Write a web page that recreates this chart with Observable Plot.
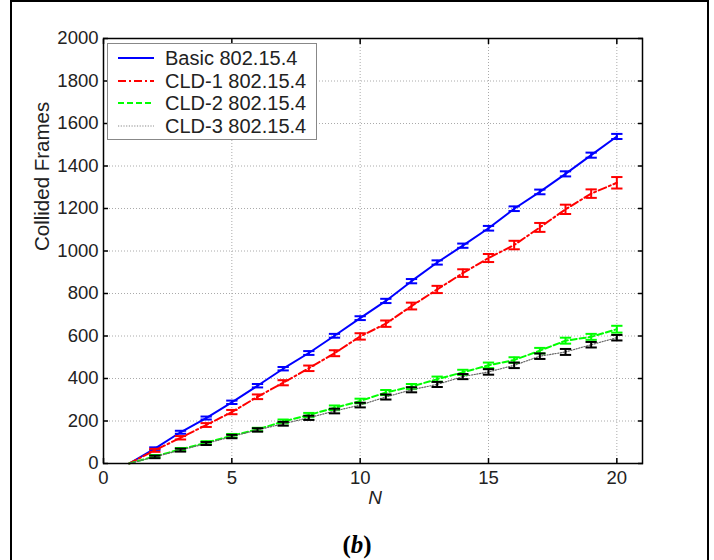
<!DOCTYPE html>
<html><head><meta charset="utf-8">
<script src="https://cdn.jsdelivr.net/npm/d3@7"></script>
<script src="https://cdn.jsdelivr.net/npm/@observablehq/plot@0.6"></script>
<style>
html,body{margin:0;padding:0;background:#fff;}
#wrap{position:relative;width:714px;height:560px;overflow:hidden;font-family:"Liberation Sans",Arial,sans-serif;}
#border{position:absolute;left:10px;top:0px;width:699px;height:600px;border:2px solid #000;border-bottom:none;box-sizing:border-box;pointer-events:none;}
#chart{position:relative;height:515px;}
#legend{position:absolute;left:107px;top:43px;width:210px;height:97px;border:1px solid #888;background:#fff;box-sizing:border-box;}
.row{position:absolute;left:0;height:22px;width:205px;}
.row svg{position:absolute;left:10px;top:6px;}
.row span{position:absolute;left:57px;top:0;line-height:22px;font-size:20px;color:#222;white-space:nowrap;}
#caption{position:relative;margin-top:16px;height:28px;line-height:28px;text-align:center;font-family:"Liberation Serif","Times New Roman",serif;font-weight:bold;font-size:25px;color:#000;}
</style></head>
<body>
<div id="wrap">
  <div id="chart"></div>
  <div id="legend"></div>
  <div id="caption">(<i>b</i>)</div>
  <div id="border"></div>
</div>
<script>
const N = [1,2,3,4,5,6,7,8,9,10,11,12,13,14,15,16,17,18,19,20];
const basic    = [0,70,147,214,288,366,446,520,601,684,765,858,946,1025,1107,1199,1278,1363,1451,1539];
const basicErr = [0,6,7,7,8,8,8,9,9,9,10,10,10,10,11,11,11,12,12,12];
const cld1     = [0,62,121,181,242,314,380,448,519,598,658,741,819,896,967,1028,1111,1196,1270,1321];
const cld1Err  = [0,7,8,9,10,11,12,13,14,15,15,16,17,18,19,20,21,22,20,27];
const cld2     = [0,34,66,98,131,160,198,228,262,294,334,362,397,429,462,487,531,578,596,632];
const cld2Err  = [0,6,7,7,8,8,9,10,11,11,12,12,12,12,13,13,13,14,14,16];
const cld3     = [0,31,63,94,127,158,187,215,247,275,313,347,372,409,431,462,505,525,559,592];
const cld3Err  = [0,6,7,7,8,8,9,10,11,11,12,12,12,12,13,13,13,14,13,13];
const seriesNames = ["Basic 802.15.4","CLD-1 802.15.4","CLD-2 802.15.4","CLD-3 802.15.4"];
const xTicks = [0,5,10,15,20];
const xTickLabels = ["0","5","10","15","20"];
const yTicks = [0,200,400,600,800,1000,1200,1400,1600,1800,2000];
const yTickLabels = ["0","200","400","600","800","1000","1200","1400","1600","1800","2000"];
const xLabel = "N";
const yLabel = "Collided Frames";

const styles = [
  {color:"#0000ff", dash:null, width:2},
  {color:"#ff0000", dash:"8,3,2,3", width:2},
  {color:"#00ff00", dash:"6,3", width:2},
  {color:"#000000", dash:"1.2,1.5", width:1.2, lineColor:"#666"}
];
const vals = [basic, cld1, cld2, cld3];
const errs = [basicErr, cld1Err, cld2Err, cld3Err];

const marks = [
  Plot.gridY(yTicks, {stroke:"#aaa", strokeOpacity:1, strokeDasharray:"1,2", strokeWidth:1}),
  Plot.gridX(xTicks, {stroke:"#aaa", strokeOpacity:1, strokeDasharray:"1,2", strokeWidth:1})
];
seriesNames.forEach((name, k) => {
  const st = styles[k];
  const rows = N.map((n,i) => ({N:n, v:vals[k][i], e:errs[k][i], name}));
  const eb = rows.filter(d => d.e > 0);
  marks.push(Plot.line(rows, {x:"N", y:"v", stroke: st.lineColor || st.color, strokeWidth: st.width, strokeDasharray: st.dash}));
  marks.push(Plot.ruleX(eb, {x:"N", y1: d => d.v - d.e, y2: d => d.v + d.e, stroke: st.color, strokeWidth: 2}));
  marks.push(Plot.link(eb, {x1: d => d.N - 0.22, x2: d => d.N + 0.22, y1: d => d.v + d.e, y2: d => d.v + d.e, stroke: st.color, strokeWidth: 2}));
  marks.push(Plot.link(eb, {x1: d => d.N - 0.22, x2: d => d.N + 0.22, y1: d => d.v - d.e, y2: d => d.v - d.e, stroke: st.color, strokeWidth: 2}));
});
marks.push(
  Plot.frame({stroke:"#000", strokeWidth:1.5}),
  Plot.axisY(yTicks, {anchor:"left", tickSize:5, dx:5, tickFormat:() => "", label:null, strokeWidth:1.5}),
  Plot.axisY(yTicks, {anchor:"right", tickSize:5, dx:-5, tickFormat:() => "", label:null, strokeWidth:1.5}),
  Plot.axisX(xTicks, {anchor:"bottom", tickSize:5, dy:-5, tickFormat:() => "", label:null, strokeWidth:1.5}),
  Plot.axisX(xTicks, {anchor:"top", tickSize:5, dy:5, tickFormat:() => "", label:null, strokeWidth:1.5}),
  Plot.axisY(yTicks, {anchor:"left", tickSize:0, tickPadding:5, fontSize:18.5, fill:"#222", tickFormat:(d) => yTickLabels[yTicks.indexOf(d)], label:null}),
  Plot.axisX(xTicks, {anchor:"bottom", tickSize:0, tickPadding:7, fontSize:18.5, fill:"#222", tickFormat:(d) => xTickLabels[xTicks.indexOf(d)], label:null}),
  Plot.text([xLabel], {text: d => d, frameAnchor:"bottom", dx:2, dy:40, fontSize:19, fontStyle:"italic", fill:"#222"}),
  Plot.text([yLabel], {text: d => d, frameAnchor:"left", dx:-61, rotate:-90, fontSize:20.5, fill:"#222"})
);

const chart = Plot.plot({
  width:714, height:515,
  marginTop:38, marginLeft:103, marginRight:72, marginBottom:52,
  style:{fontFamily:"'Liberation Sans', Arial, sans-serif", background:"transparent", overflow:"visible"},
  x:{domain:[0,21], axis:null},
  y:{domain:[0,2000], axis:null},
  marks
});
document.getElementById("chart").appendChild(chart);

const legend = document.getElementById("legend");
const centers = [13.5, 36.5, 59, 82];
seriesNames.forEach((name,k) => {
  const st = styles[k];
  const row = document.createElement("div");
  row.className = "row";
  row.style.top = (centers[k] - 11) + "px";
  const ns = "http://www.w3.org/2000/svg";
  const svg = document.createElementNS(ns, "svg");
  svg.setAttribute("width", "36"); svg.setAttribute("height", "10");
  const ln = document.createElementNS(ns, "line");
  ln.setAttribute("x1","0"); ln.setAttribute("x2","36"); ln.setAttribute("y1","5"); ln.setAttribute("y2","5");
  ln.setAttribute("stroke", st.lineColor ? "#888" : st.color);
  ln.setAttribute("stroke-width", st.width);
  if (st.dash) ln.setAttribute("stroke-dasharray", st.dash);
  svg.appendChild(ln);
  const sp = document.createElement("span");
  sp.textContent = name;
  row.appendChild(svg); row.appendChild(sp);
  legend.appendChild(row);
});
</script>
</body></html>
